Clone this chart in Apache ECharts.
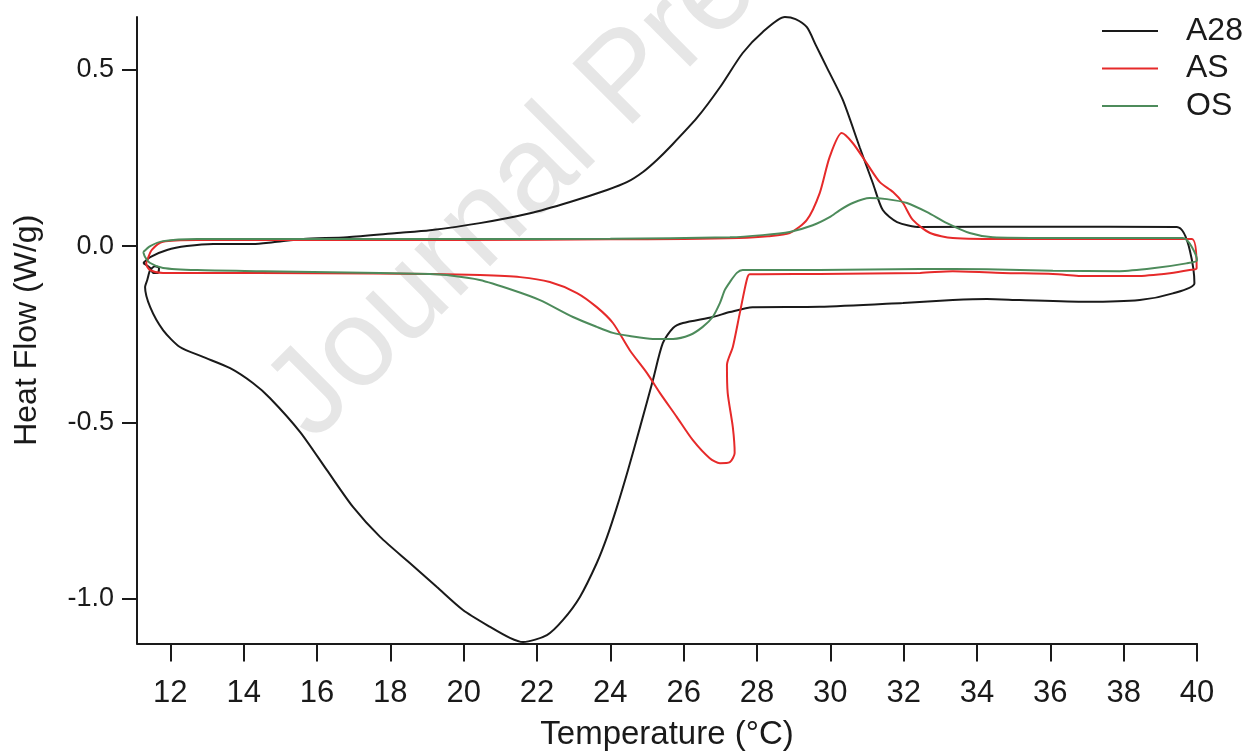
<!DOCTYPE html>
<html>
<head>
<meta charset="utf-8">
<title>Heat Flow vs Temperature</title>
<script src="https://cdn.jsdelivr.net/npm/echarts@6/dist/echarts.min.js"></script>
<style>
  html, body { margin: 0; padding: 0; background: #ffffff; }
  #chart { width: 1248px; height: 751px; }
</style>
</head>
<body>
<div id="chart"></div>
<script>
// DSC heating/cooling loops: [temperature °C, heat flow W/g]
const seriesNames = ['A28', 'AS', 'OS'];

const a28Loop = [
  [11.26,-0.048],[11.45,-0.031],[11.91,-0.011],[12.45,0.000],[13.17,0.006],[13.63,0.006],
  [14.25,0.006],[14.80,0.011],[15.62,0.020],[16.82,0.025],[18.18,0.037],[19.08,0.045],
  [20.44,0.065],[21.81,0.093],[22.90,0.125],[23.91,0.159],[24.45,0.181],[24.89,0.210],
  [25.27,0.244],[25.62,0.280],[26.36,0.363],[26.99,0.450],[27.61,0.547],[28.15,0.606],
  [28.76,0.649],[29.05,0.643],[29.36,0.620],[29.60,0.570],[29.90,0.507],[30.34,0.414],
  [30.80,0.280],[31.16,0.178],[31.43,0.102],[31.82,0.068],[32.45,0.054],[36.00,0.055],
  [39.45,0.054],[39.93,-0.105],[39.34,-0.134],[38.44,-0.153],[36.98,-0.158],[35.16,-0.153],
  [34.27,-0.150],[33.34,-0.153],[31.98,-0.161],[29.71,-0.172],[27.88,-0.173],[27.26,-0.187],
  [26.79,-0.201],[25.98,-0.218],[25.71,-0.232],[25.43,-0.275],[25.16,-0.380],[24.81,-0.513],
  [24.48,-0.635],[24.18,-0.739],[23.91,-0.824],[23.63,-0.898],[23.17,-0.994],[22.71,-1.059],
  [22.27,-1.102],[21.62,-1.122],[21.26,-1.110],[20.72,-1.079],[19.98,-1.031],[19.27,-0.966],
  [18.53,-0.898],[17.72,-0.824],[16.98,-0.739],[16.27,-0.635],[15.54,-0.527],[14.72,-0.431],
  [14.25,-0.388],[13.63,-0.346],[12.89,-0.314],[12.26,-0.286],[11.80,-0.238],[11.45,-0.173],
  [11.31,-0.116],[11.37,-0.096],[11.45,-0.068],[11.58,-0.057],[11.69,-0.062],[11.66,-0.076],
  [11.53,-0.076],[11.45,-0.062],[11.26,-0.048]
];

const asLoop = [
  [11.39,-0.034],[11.50,-0.010],[11.80,0.012],[12.73,0.017],[16.00,0.017],[20.00,0.017],
  [24.00,0.019],[26.00,0.020],[27.50,0.023],[28.30,0.028],[28.89,0.037],[29.36,0.074],
  [29.71,0.150],[29.98,0.252],[30.31,0.320],[30.61,0.292],[30.99,0.235],[31.35,0.181],
  [31.71,0.153],[31.98,0.122],[32.25,0.074],[32.72,0.037],[33.34,0.023],[35.00,0.020],
  [38.00,0.020],[39.86,0.020],[39.99,-0.063],[39.80,-0.068],[39.26,-0.077],[38.35,-0.085],
  [36.98,-0.085],[36.07,-0.079],[34.70,-0.076],[33.34,-0.071],[32.45,-0.076],[29.71,-0.079],
  [27.80,-0.080],[27.72,-0.096],[27.53,-0.190],[27.34,-0.286],[27.18,-0.337],[27.20,-0.416],
  [27.34,-0.513],[27.39,-0.586],[27.26,-0.612],[26.99,-0.615],[26.71,-0.601],[26.25,-0.550],
  [25.81,-0.484],[25.35,-0.416],[25.00,-0.360],[24.53,-0.295],[24.07,-0.218],[23.63,-0.173],
  [23.09,-0.133],[22.35,-0.102],[21.54,-0.088],[20.44,-0.082],[19.08,-0.079],[16.00,-0.077],
  [12.73,-0.076],[11.80,-0.076],[11.45,-0.068],[11.34,-0.051],[11.39,-0.034]
];

const osLoop = [
  [11.26,-0.017],[11.45,0.000],[11.80,0.014],[12.73,0.020],[16.00,0.020],[20.00,0.020],
  [24.00,0.021],[27.26,0.025],[28.15,0.031],[28.89,0.040],[29.52,0.059],[29.98,0.082],
  [30.26,0.102],[30.61,0.122],[31.07,0.136],[31.54,0.133],[32.09,0.122],[32.64,0.096],
  [33.18,0.065],[33.80,0.037],[34.43,0.025],[36.00,0.023],[39.61,0.023],[40.00,-0.040],
  [39.71,-0.049],[38.79,-0.063],[37.89,-0.071],[36.07,-0.070],[34.27,-0.066],[32.45,-0.065],
  [29.71,-0.068],[27.61,-0.068],[27.45,-0.076],[27.26,-0.102],[27.12,-0.125],[26.99,-0.161],
  [26.79,-0.201],[26.52,-0.229],[26.17,-0.252],[25.71,-0.263],[25.16,-0.263],[24.53,-0.255],
  [24.07,-0.246],[23.63,-0.229],[22.98,-0.201],[22.08,-0.153],[21.35,-0.125],
  [20.44,-0.096],[19.54,-0.082],[19.08,-0.079],[16.35,-0.074],[14.53,-0.071],[12.73,-0.068],
  [11.80,-0.062],[11.45,-0.048],[11.31,-0.031],[11.26,-0.017]
];

const xTicks = [12, 14, 16, 18, 20, 22, 24, 26, 28, 30, 32, 34, 36, 38, 40];
const yTicks = [-1.0, -0.5, 0.0, 0.5];

const FONT = "'Liberation Sans', Arial, sans-serif";
const INK = '#1a1a1a';
const colors = ['#1a1a1a', '#e62a2a', '#4d8b5b'];

const chart = echarts.init(document.getElementById('chart'), null, { renderer: 'canvas' });

function lineSeries(name, data, color) {
  return {
    name: name,
    type: 'line',
    data: data,
    showSymbol: false,
    smooth: 0.25,
    lineStyle: { color: color, width: 2 },
    itemStyle: { color: color },
    z: 3
  };
}

chart.setOption({
  animation: false,
  backgroundColor: '#ffffff',
  textStyle: { fontFamily: FONT },
  graphic: [{
    // faint diagonal stamp behind the curves
    type: 'text',
    x: 628,
    y: 80,
    rotation: Math.PI / 4,
    z: 0,
    silent: true,
    style: {
      text: 'Journal Pre-proof',
      fontSize: 124,
      fontFamily: FONT,
      fill: '#e6e6e6',
      align: 'center',
      verticalAlign: 'middle'
    }
  }],
  grid: {
    left: 137, right: 51, top: 17, bottom: 107.5,
    containLabel: false,
    outerBoundsMode: 'none'
  },
  legend: {
    data: seriesNames,
    orient: 'vertical',
    left: 1097,
    top: 10,
    icon: 'rect',
    itemWidth: 56,
    itemHeight: 2,
    itemGap: 5.5,
    textStyle: {
      fontFamily: FONT,
      fontSize: 32,
      color: INK,
      lineHeight: 32,
      padding: [0, 0, 0, 23]
    }
  },
  xAxis: {
    type: 'value',
    min: 11.09,
    max: 40,
    name: 'Temperature (°C)',
    nameLocation: 'middle',
    nameGap: 75,
    nameTextStyle: { fontFamily: FONT, fontSize: 33, color: INK },
    axisLine: { show: true, onZero: false, lineStyle: { color: INK, width: 2 } },
    axisTick: { show: true, inside: false, length: 18, customValues: xTicks, lineStyle: { color: INK, width: 2 } },
    axisLabel: { customValues: xTicks, margin: 34, fontSize: 31, color: INK, fontFamily: FONT },
    splitLine: { show: false }
  },
  yAxis: {
    type: 'value',
    min: -1.126,
    max: 0.649,
    name: 'Heat Flow (W/g)',
    nameLocation: 'middle',
    nameGap: 94,
    nameTextStyle: { fontFamily: FONT, fontSize: 32, color: INK },
    axisLine: { show: true, onZero: false, lineStyle: { color: INK, width: 2 } },
    axisTick: { show: true, inside: false, length: 15, customValues: yTicks, lineStyle: { color: INK, width: 2 } },
    axisLabel: {
      customValues: yTicks,
      margin: 23,
      fontSize: 27,
      color: INK,
      fontFamily: FONT,
      formatter: function (v) { return v.toFixed(1); }
    },
    splitLine: { show: false }
  },
  series: [
    lineSeries(seriesNames[0], a28Loop, colors[0]),
    lineSeries(seriesNames[1], asLoop, colors[1]),
    lineSeries(seriesNames[2], osLoop, colors[2])
  ]
});
</script>
</body>
</html>
